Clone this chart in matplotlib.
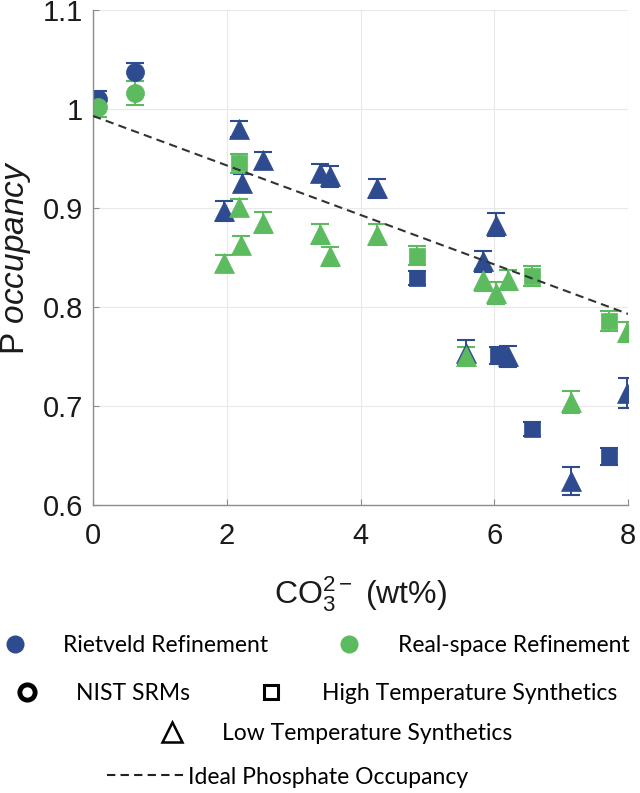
import matplotlib
matplotlib.use('Agg')
import matplotlib.pyplot as plt
from matplotlib.lines import Line2D
from matplotlib.font_manager import FontProperties

plt.rcParams['font.family'] = ['Liberation Sans', 'DejaVu Sans']
plt.rcParams['mathtext.fontset'] = 'custom'
plt.rcParams['mathtext.rm'] = 'Liberation Sans'
plt.rcParams['mathtext.it'] = 'Liberation Sans:italic'
plt.rcParams['lines.markeredgewidth'] = 0.5

# colours
blue = '#2E4B8F'
green = '#5CBA5F'

# Rietveld refinement (blue)
rv_nist_x = [0.07, 0.63]
rv_nist_y = [1.010, 1.037]
rv_nist_err = [0.008, 0.009]

rv_ht_x = [4.84, 6.06, 6.56, 7.72]
rv_ht_y = [0.829, 0.751, 0.677, 0.649]
rv_ht_err = [0.007, 0.009, 0.007, 0.009]

rv_lt_x = [1.96, 2.19, 2.23, 2.54, 3.40, 3.55, 4.24, 5.57, 5.83, 6.03, 6.21, 7.14, 7.98]
rv_lt_y = [0.897, 0.980, 0.925, 0.948, 0.935, 0.932, 0.920, 0.754, 0.846, 0.883, 0.750, 0.624, 0.713]
rv_lt_err = [0.010, 0.008, 0.009, 0.009, 0.009, 0.0105, 0.0095, 0.013, 0.011, 0.0115, 0.011, 0.014, 0.0155]

# Real-space refinement (green)
rs_nist_x = [0.07, 0.63]
rs_nist_y = [1.002, 1.016]
rs_nist_err = [0.010, 0.012]

rs_ht_x = [2.19, 4.84, 6.56, 7.72]
rs_ht_y = [0.945, 0.852, 0.831, 0.786]
rs_ht_err = [0.010, 0.010, 0.010, 0.010]

rs_lt_x = [1.96, 2.18, 2.22, 2.54, 3.40, 3.55, 4.24, 5.57, 5.83, 6.03, 6.21, 7.14, 7.98]
rs_lt_y = [0.844, 0.901, 0.863, 0.885, 0.874, 0.851, 0.873, 0.750, 0.827, 0.814, 0.827, 0.704, 0.775]
rs_lt_err = [0.009, 0.008, 0.009, 0.0105, 0.010, 0.0097, 0.0104, 0.010, 0.011, 0.011, 0.010, 0.011, 0.010]

# ideal phosphate occupancy line
ideal_x = [0, 8]
ideal_y = [0.993, 0.793]

xticks = [0, 2, 4, 6, 8]
yticks = [0.6, 0.7, 0.8, 0.9, 1.0, 1.1]
ytick_labels = ['0.6', '0.7', '0.8', '0.9', '1', '1.1']

fig = plt.figure(figsize=(6.4, 7.93), dpi=100)
ax = fig.add_axes([0.1453, 0.3632, 0.836, 0.6242])

eb = dict(ls='none', elinewidth=1.4, capthick=1.5, capsize=6.5)

ax.errorbar(rv_nist_x, rv_nist_y, yerr=rv_nist_err, fmt='o', ms=13, color=blue, **eb)
ax.errorbar(rv_ht_x, rv_ht_y, yerr=rv_ht_err, fmt='s', ms=11, color=blue, **eb)
ax.errorbar(rv_lt_x, rv_lt_y, yerr=rv_lt_err, fmt='^', ms=14.5, color=blue, **eb)
ax.errorbar(rs_nist_x, rs_nist_y, yerr=rs_nist_err, fmt='o', ms=13, color=green, **eb)
ax.errorbar(rs_ht_x, rs_ht_y, yerr=rs_ht_err, fmt='s', ms=11, color=green, **eb)
ax.errorbar(rs_lt_x, rs_lt_y, yerr=rs_lt_err, fmt='^', ms=14.5, color=green, **eb)

ax.plot(ideal_x, ideal_y, color='#333333', lw=1.5, dashes=(4, 2.5), zorder=5)

ax.set_xlim(0, 8)
ax.set_ylim(0.6, 1.1)
ax.set_xticks(xticks)
ax.set_yticks(yticks)
ax.set_yticklabels(ytick_labels)
ax.grid(True, color='#e8e8e8', lw=0.8)
ax.set_axisbelow(True)
for s in ['top', 'right']:
    ax.spines[s].set_visible(False)
for s in ['left', 'bottom']:
    ax.spines[s].set_color('#8c8c8c')
    ax.spines[s].set_linewidth(1.0)
ax.tick_params(direction='in', length=4, width=0.8, color='#8c8c8c', labelsize=21, labelcolor='#1a1a1a')
ax.tick_params(axis='x', pad=12)
ax.tick_params(axis='y', pad=7)

ax.set_xlabel('CO$_3^{2-}$ (wt%)', fontsize=23, color='#1a1a1a')
ax.xaxis.set_label_coords(0.5, -0.14)
ax.set_ylabel('P $\\it{occupancy}$', fontsize=24, color='#1a1a1a')
ax.yaxis.set_label_coords(-0.112, 0.5)

# key below the chart, one legend per entry
key_size = 16.5
key_font = FontProperties(family=['Lato', 'DejaVu Sans'], size=key_size)
fs_px = key_size * 100 / 72


def key(handle, label, centre_px, text_px, y_px, hlen=1.0):
    left = centre_px - hlen * fs_px / 2
    pad = (text_px - left - hlen * fs_px - 1.5) / fs_px
    fig.legend(handles=[handle], labels=[label], loc='center left',
               bbox_to_anchor=(left / 640, 1 - y_px / 793), frameon=False,
               borderpad=0, borderaxespad=0, handlelength=hlen,
               handletextpad=pad, prop=key_font)


key(Line2D([], [], ls='none', marker='o', ms=13, color=blue, mew=0),
    'Rietveld Refinement', 15, 65, 646)
key(Line2D([], [], ls='none', marker='o', ms=13, color=green, mew=0),
    'Real-space Refinement', 349, 400, 646)
key(Line2D([], [], ls='none', marker='o', ms=11, mfc='white', mec='black', mew=3.5),
    'NIST SRMs', 27, 78, 694)
key(Line2D([], [], ls='none', marker='s', ms=10, mfc='white', mec='black', mew=2.2),
    'High Temperature Synthetics', 271, 323, 694)
key(Line2D([], [], ls='none', marker='^', ms=14, mfc='white', mec='black', mew=1.8),
    'Low Temperature Synthetics', 172, 223, 734)
key(Line2D([], [], color='#222222', lw=1.5, dashes=(4, 2.5)),
    'Ideal Phosphate Occupancy', 147, 190, 777, hlen=80 / fs_px)

fig.savefig('out.png', dpi=100)
